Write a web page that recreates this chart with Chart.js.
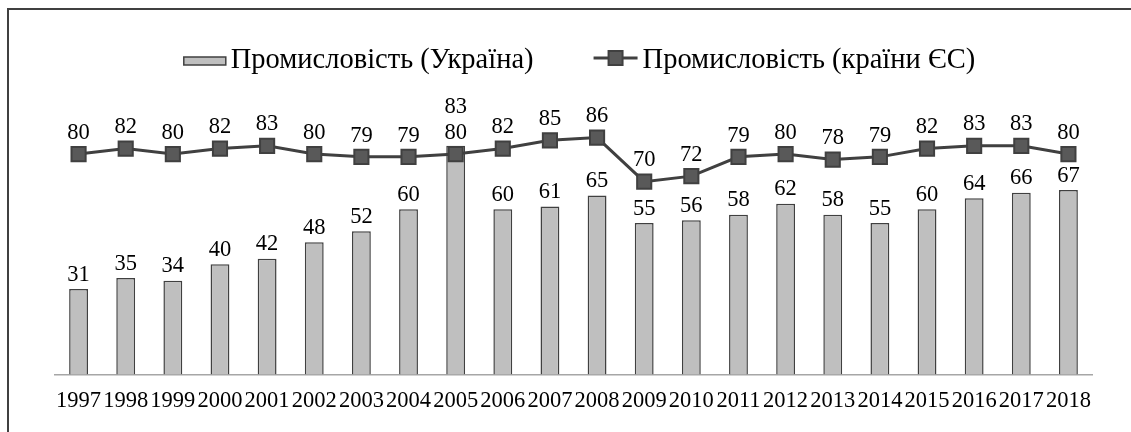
<!DOCTYPE html>
<html>
<head>
<meta charset="utf-8">
<script src="https://cdn.jsdelivr.net/npm/chart.js@4.4.1/dist/chart.umd.min.js"></script>
<style>
    html, body { margin: 0; padding: 0; background: #fff; }
    canvas { display: block; }
</style>
</head>
<body>
<canvas id="myChart" width="1131" height="432"></canvas>
<script>
const years = ['1997', '1998', '1999', '2000', '2001', '2002', '2003', '2004', '2005', '2006', '2007',
    '2008', '2009', '2010', '2011', '2012', '2013', '2014', '2015', '2016', '2017', '2018'];
const ukraine = [31, 35, 34, 40, 42, 48, 52, 60, 83, 60, 61, 65, 55, 56, 58, 62, 58, 55, 60, 64, 66, 67];
const euCountries = [80, 82, 80, 82, 83, 80, 79, 79, 80, 82, 85, 86, 70, 72, 79, 80, 78, 79, 82, 83, 83, 80];
const seriesNames = ['Промисловість (Україна)', 'Промисловість (країни ЄС)'];

const serif = '"Liberation Serif", "Times New Roman", serif';
const labelSize = 22.5;

// frame round the picture (only top and left edges are visible)
const framePlugin = {
    id: 'frame',
    beforeDraw(chart) {
        const c = chart.ctx;
        c.save();
        c.fillStyle = '#fff';
        c.fillRect(0, 0, chart.width, chart.height);
        c.strokeStyle = '#404040';
        c.lineWidth = 2;
        c.beginPath();
        c.moveTo(8, chart.height);
        c.lineTo(8, 9);
        c.lineTo(chart.width, 9);
        c.stroke();
        c.restore();
    }
};

// value labels above bars and markers; a bar label that would hit
// the line label is lifted above it
const valueLabels = {
    id: 'valueLabels',
    afterDatasetsDraw(chart) {
        const c = chart.ctx;
        c.save();
        c.font = labelSize + 'px ' + serif;
        c.fillStyle = '#000';
        c.textAlign = 'center';
        c.textBaseline = 'bottom';
        const lineBoxes = {};
        chart.data.datasets.forEach((ds, i) => {
            if (ds.type !== 'line') return;
            chart.getDatasetMeta(i).data.forEach((el, j) => {
                const y = el.y - 10;
                c.fillText(ds.data[j], el.x, y);
                lineBoxes[j] = { top: y - labelSize, bottom: y };
            });
        });
        chart.data.datasets.forEach((ds, i) => {
            if (ds.type !== 'bar') return;
            chart.getDatasetMeta(i).data.forEach((el, j) => {
                let y = el.y - 3;
                const lb = lineBoxes[j];
                if (lb && y > lb.top && y - labelSize < lb.bottom) y = lb.top - 3;
                c.fillText(ds.data[j], el.x, y);
            });
        });
        c.restore();
    }
};

// legend drawn by hand so the spacing follows the original
const legendPlugin = {
    id: 'customLegend',
    afterDraw(chart) {
        const c = chart.ctx;
        c.save();
        c.font = '28.5px ' + serif;
        c.textBaseline = 'middle';
        c.fillStyle = '#000';
        const w1 = c.measureText(seriesNames[0]).width;
        const w2 = c.measureText(seriesNames[1]).width;
        const total = 42 + 5 + w1 + 60 + 44 + 5 + w2;
        let x = (chart.chartArea.left + chart.chartArea.right) / 2 + 6 - total / 2;
        const y = 61;

        c.fillStyle = '#bfbfbf';
        c.strokeStyle = '#404040';
        c.lineWidth = 1.5;
        c.fillRect(x, y - 4, 42, 8);
        c.strokeRect(x, y - 4, 42, 8);
        x += 47;
        c.fillStyle = '#000';
        c.fillText(seriesNames[0], x, y);
        x += w1 + 60;

        c.strokeStyle = '#404040';
        c.lineWidth = 3;
        c.beginPath();
        c.moveTo(x, y - 3);
        c.lineTo(x + 44, y - 3);
        c.stroke();
        c.fillStyle = '#595959';
        c.lineWidth = 2;
        c.fillRect(x + 15, y - 10, 14, 14);
        c.strokeRect(x + 15, y - 10, 14, 14);
        x += 49;
        c.fillStyle = '#000';
        c.fillText(seriesNames[1], x, y);
        c.restore();
    }
};

document.addEventListener('DOMContentLoaded', function () {
    const ctx = document.getElementById('myChart').getContext('2d');

    new Chart(ctx, {
        data: {
            labels: years,
            datasets: [{
                type: 'line',
                label: seriesNames[1],
                data: euCountries,
                borderColor: '#404040',
                borderWidth: 3,
                pointStyle: 'rect',
                pointRadius: 10,
                pointBackgroundColor: '#595959',
                pointBorderColor: '#404040',
                pointBorderWidth: 2,
                order: 0
            }, {
                type: 'bar',
                label: seriesNames[0],
                data: ukraine,
                backgroundColor: '#bfbfbf',
                borderColor: '#404040',
                borderWidth: 1.5,
                categoryPercentage: 1,
                barPercentage: 0.4,
                order: 1
            }]
        },
        options: {
            responsive: false,
            devicePixelRatio: 1,
            animation: false,
            layout: {
                padding: { left: 55, right: 39, top: 99, bottom: 3.5 }
            },
            plugins: {
                legend: { display: false },
                tooltip: { enabled: false }
            },
            scales: {
                x: {
                    grid: { display: false, drawTicks: false },
                    border: { display: true, color: '#a6a6a6', width: 1.5 },
                    ticks: {
                        color: '#000',
                        font: { family: serif, size: labelSize },
                        padding: 13.5,
                        autoSkip: false,
                        maxRotation: 0
                    }
                },
                y: {
                    display: false,
                    min: 0,
                    max: 100
                }
            }
        },
        plugins: [framePlugin, valueLabels, legendPlugin]
    });
});
</script>
</body>
</html>
